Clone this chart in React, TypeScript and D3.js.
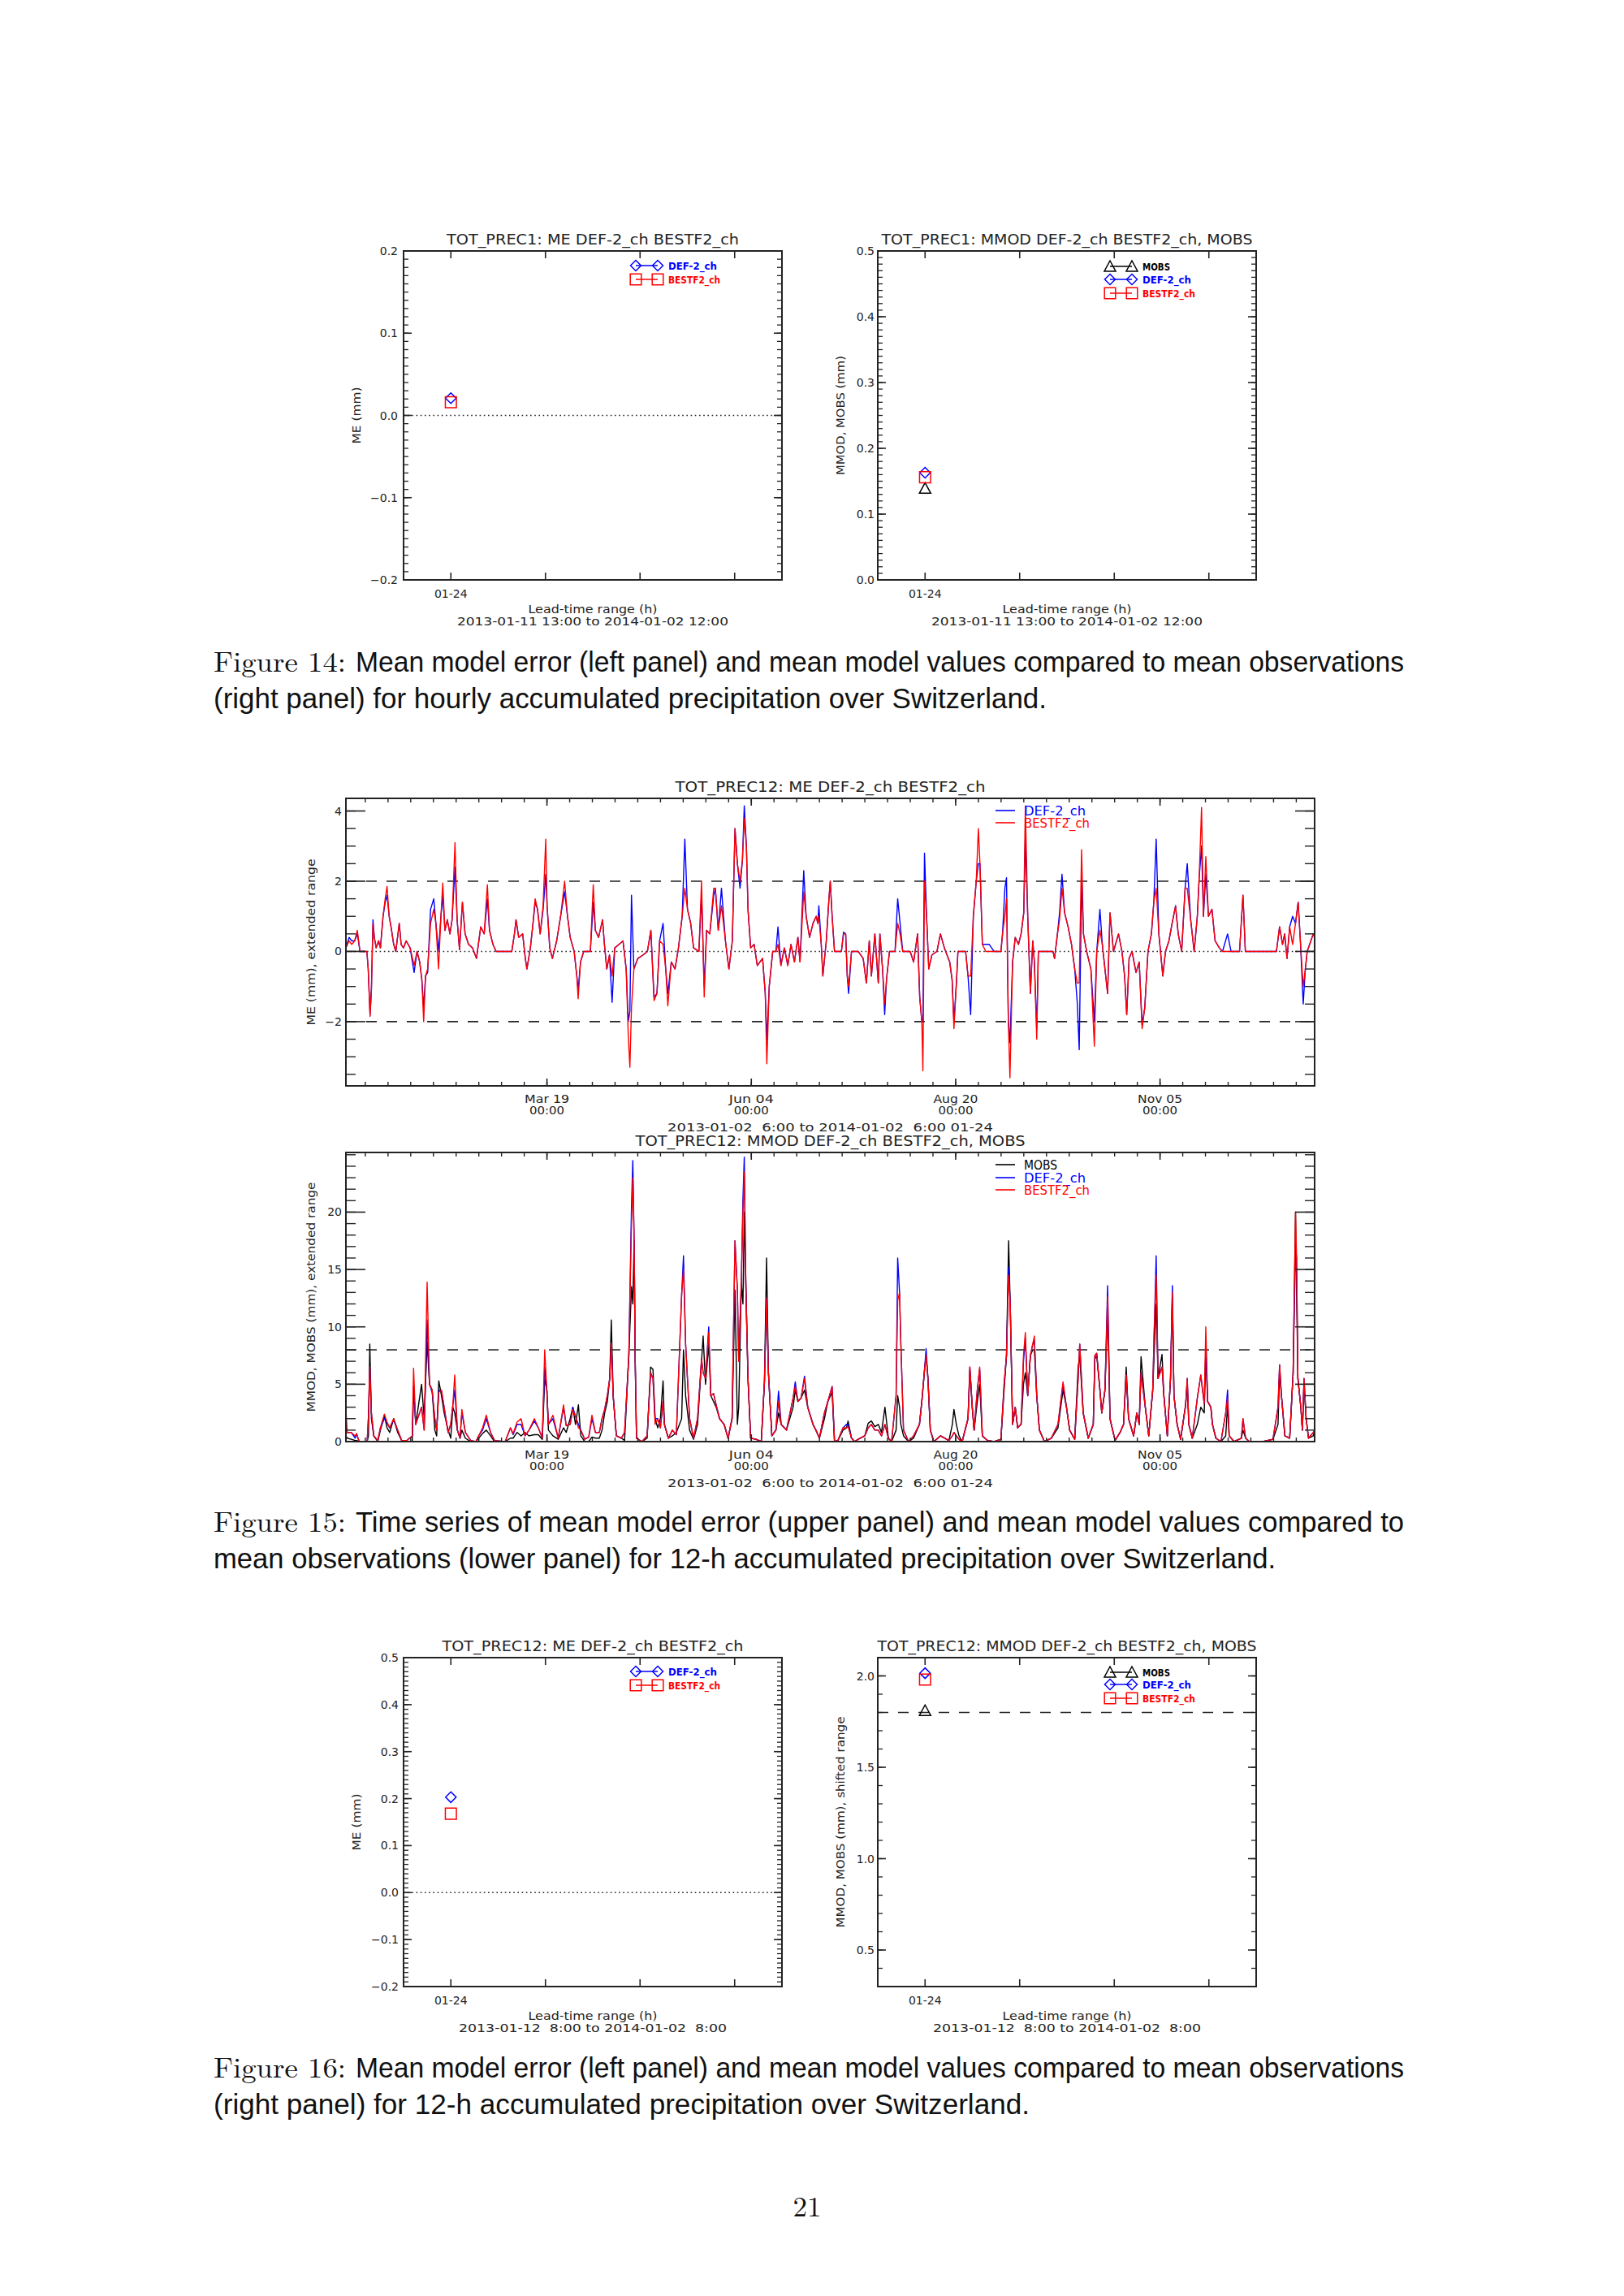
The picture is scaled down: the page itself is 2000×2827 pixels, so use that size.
import React from "react";
import * as d3 from "d3";

// ---------------- DATA ----------------
// Fig 14 / 16 lead-time panels (single lead-time range "01-24")
const leadCategories = ["01-24"];
const fig14MeDef = [0.021];
const fig14MeBest = [0.016];
const fig14MmodDef = [0.163];
const fig14MmodBest = [0.156];
const fig14Mobs = [0.139];
const fig16MeDef = [0.203];
const fig16MeBest = [0.168];
const fig16MmodDef = [2.015];
const fig16MmodBest = [1.98];
const fig16Mobs = [1.81];

const fig14LeftTicks = [-0.2, -0.1, 0.0, 0.1, 0.2];
const fig14RightTicks = [0.0, 0.1, 0.2, 0.3, 0.4, 0.5];
const fig16LeftTicks = [-0.2, -0.1, 0.0, 0.1, 0.2, 0.3, 0.4, 0.5];
const fig16RightTicks = [0.5, 1.0, 1.5, 2.0];

// Fig 15 time series: [day since 2013-01-02 06:00, value]
const meBest: [number, number][] = [[0,0.1],[1.2,0.3],[2.2,0.2],[3.3,0.3],[4.3,0.6],[5.3,0],[7.9,0],[8.4,-0.5],[9.1,-1.85],[9.6,-1.1],[10.2,0.8],[10.7,0.4],[11.4,0.1],[12.3,0.3],[13,0.1],[14,1.0],[14.8,1.5],[15.5,1.85],[16.3,1.0],[17,0.7],[18,0.2],[18.8,0],[20.1,0.8],[20.8,0.2],[21.7,0.1],[22.7,0.3],[24.2,0.1],[25.7,-0.4],[26.8,0],[27.8,-0.3],[28.6,-0.8],[29.3,-2.0],[30,-0.7],[30.8,-0.5],[31.9,0.8],[33.1,1.2],[33.9,0.8],[34.9,-0.5],[35.8,1.0],[36.5,1.95],[37.3,0.6],[38.2,0.9],[39.2,0.5],[40,0.9],[41.1,3.1],[41.9,0.9],[42.8,0.05],[43.9,1.4],[44.9,0.5],[46.2,0.2],[47.7,0.1],[49.2,-0.2],[50.8,0.7],[52.1,0.5],[53.3,1.9],[54.1,0.6],[55.4,0.2],[56.6,0],[62.5,0],[63.5,0.5],[64.1,0.9],[65.1,0.4],[66.6,0.5],[67.6,-0.2],[68.2,-0.5],[69.5,0.1],[70.5,0.8],[71.3,1.5],[72.2,1.2],[73.2,0.5],[74.3,1.3],[75.3,3.2],[75.8,1.3],[76.8,0.1],[77.8,-0.2],[79.4,0.3],[80.9,1.0],[82.4,2.0],[83.5,1.0],[84.5,0.4],[86,0],[87,-0.7],[87.5,-1.35],[88.4,-0.3],[89.6,0],[92.1,0],[93.2,1.9],[94,0.6],[95.2,0.4],[96.7,0.9],[97.4,0.2],[98.3,-0.5],[99.3,-0.1],[100.3,-0.7],[101.3,0.1],[102.9,0.2],[104.4,0.3],[105.6,-0.5],[106.4,-2.4],[107,-3.3],[107.6,-1.6],[108.5,-0.5],[110,-0.2],[112,-0.1],[113.6,0],[114.9,0.6],[116.1,-1.4],[117.2,-1.2],[118.2,0.3],[119.5,0.2],[120.5,-0.5],[121.3,-1.55],[122.6,-0.3],[124,-0.5],[125.3,0.1],[126.7,1.0],[127.7,1.8],[128.7,1.2],[129.9,0.8],[131,0.1],[133,0],[134,2.0],[135,-1.3],[135.9,0.6],[137.1,0.5],[138.6,1.8],[139.2,1.8],[140.3,0.6],[141.5,1.3],[143,0.3],[144.3,-0.5],[145.6,0.3],[146.6,3.5],[147.5,2.5],[148.5,2.0],[149.4,2.6],[150.1,3.8],[150.9,3.0],[151.5,1.2],[152.5,0.1],[153.8,0.2],[155,-0.4],[157,-0.2],[158,-1.2],[158.6,-3.2],[159.5,-1.0],[160.8,0],[162,0],[162.8,0.2],[163.9,-0.4],[165.2,0.1],[166.5,-0.4],[167.7,0.2],[169,-0.3],[170.3,0.4],[171.1,-0.3],[172.5,1.7],[173.4,1.0],[174.7,0.4],[176,0.8],[177.2,1.0],[177.8,0.8],[178.2,1.0],[179.1,0.2],[179.7,-0.7],[181,0.3],[182,1.5],[182.5,2.0],[183.2,1.0],[184.1,0],[186.7,0],[187.5,0.5],[188.3,0.5],[188.9,-0.7],[189.4,-1.0],[190.5,0],[193,0],[194.9,-0.2],[196.1,-0.9],[197.2,0.3],[198,-0.7],[199.3,0.5],[200.6,-0.9],[201.2,0.5],[202.2,-0.5],[203,-1.5],[203.7,-0.8],[204.8,0],[206.9,0],[207.9,0.8],[208.8,0.5],[209.8,0],[212.6,0],[213.9,-0.3],[215.4,0.5],[216.2,-1.3],[217,-2.0],[217.4,-3.4],[218,2.0],[218.9,0.8],[219.6,-0.5],[220.8,-0.1],[222.7,0],[224,0.5],[225.5,0.1],[227.5,-0.3],[228.4,-0.8],[229.1,-2.2],[230.1,-0.8],[230.6,0],[233.5,0],[234.4,-0.7],[235.4,-0.7],[236.4,1.0],[237.5,2.0],[238.3,3.5],[238.9,2.5],[239.8,0.2],[241.1,0],[246.8,0],[247.4,0.5],[248.3,1.0],[248.9,1.5],[249.6,-2.0],[250.2,-3.6],[251.2,-0.3],[252.2,0.4],[253.4,0.2],[254.4,0.5],[255.4,1.1],[256,4.15],[256.9,1.0],[257.9,-1.2],[258.8,0.3],[259.4,-0.3],[260.3,-2.5],[260.9,0],[266.4,0],[267,-0.2],[268.1,0.5],[268.9,0.9],[269.8,1.8],[270.8,1.1],[272.1,0.7],[273.4,0.2],[274.6,-0.5],[275.6,-0.9],[276.3,-0.9],[277.2,2.9],[277.9,0.5],[279.1,0],[280.7,-0.5],[282,-2.7],[282.9,0],[284.1,0.6],[285,0.2],[286,-0.5],[287,-1.2],[287.9,1.1],[289.2,0],[291.1,0.5],[292.4,0],[293.4,-0.7],[294.2,-1.8],[295.1,-0.2],[296.2,0],[297.7,-0.6],[298.9,-0.3],[300,-2.2],[301,-1.6],[302.2,0],[303.5,0.5],[304.4,1.4],[305.3,1.8],[306.3,0.5],[307.8,-0.7],[308.8,0],[310.1,0.3],[311.3,0.8],[312.6,1.3],[313.6,0.5],[314.9,0],[316.2,1.8],[317,1.8],[318.3,0.9],[319.6,0],[320.8,1.0],[321.5,2.1],[322.4,4.1],[323.1,1.0],[324,2.7],[325,1.0],[326.3,1.2],[327.5,0.3],[329.1,0.1],[330.3,0],[336.7,0],[338,1.6],[338.9,0],[350.6,0],[351.8,0.7],[352.9,0.2],[353.7,0.5],[354.6,-0.2],[355.6,0.7],[356.7,0.2],[357.8,0.8],[358.8,1.4],[359.7,0.2],[360.7,-1.0],[361.5,-0.5],[362.2,0],[364.5,0.5],[365,0.4]];

const meDef: [number, number][] = [[0,0.1],[1.2,0.4],[2.2,0.3],[3.3,0.3],[4.3,0.5],[5.3,0],[7.9,0],[8.4,-0.5],[9.1,-1.8],[9.6,-1.1],[10.2,0.9],[10.7,0.4],[11.4,0.1],[12.3,0.3],[13,0.1],[14,1.0],[14.8,1.4],[15.5,1.6],[16.3,1.0],[17,0.7],[18,0.2],[18.8,0],[20.1,0.8],[20.8,0.2],[21.7,0.1],[22.7,0.3],[24.2,0.1],[25.7,-0.6],[26.8,0],[27.8,-0.3],[28.6,-0.8],[29.3,-1.6],[30,-0.7],[30.8,-0.6],[31.9,1.2],[33.1,1.5],[33.9,0.8],[34.9,0],[35.8,1.0],[36.5,1.6],[37.3,0.6],[38.2,0.9],[39.2,0.5],[40,0.9],[41.1,2.4],[41.9,0.9],[42.8,0.05],[43.9,1.4],[44.9,0.5],[46.2,0.2],[47.7,0.1],[49.2,-0.2],[50.8,0.7],[52.1,0.5],[53.3,1.5],[54.1,0.6],[55.4,0.2],[56.6,0],[62.5,0],[63.5,0.5],[64.1,0.9],[65.1,0.4],[66.6,0.5],[67.6,-0.2],[68.2,-0.5],[69.5,0.1],[70.5,0.8],[71.3,1.4],[72.2,1.2],[73.2,0.5],[74.3,1.2],[75.3,2.2],[75.8,1.3],[76.8,0.1],[77.8,-0.2],[79.4,0.3],[80.9,1.0],[82.4,1.7],[83.5,1.0],[84.5,0.4],[86,0],[87,-0.7],[87.5,-1.1],[88.4,-0.3],[89.6,0],[92.1,0],[93.2,1.4],[94,0.6],[95.2,0.4],[96.7,0.9],[97.4,0.2],[98.3,-0.5],[99.3,-0.1],[100.3,-1.45],[101.3,0.1],[102.9,0.2],[104.4,0.3],[105.6,-0.5],[106.4,-2.0],[107,-1.7],[107.6,1.6],[108.5,-0.5],[110,-0.2],[112,-0.1],[113.6,0],[114.9,0.6],[116.1,-1.3],[117.2,-1.2],[118.2,0.3],[119.5,0.8],[120.5,-0.5],[121.3,-1.2],[122.6,-0.3],[124,-0.5],[125.3,0.1],[126.7,1.0],[127.7,3.2],[128.7,1.2],[129.9,0.8],[131,0.1],[133,0],[134,1.6],[135,-1.0],[135.9,0.6],[137.1,0.5],[138.6,1.6],[139.2,1.8],[140.3,0.6],[141.5,1.8],[143,0.3],[144.3,-0.5],[145.6,0.3],[146.6,3.5],[147.5,2.5],[148.5,1.8],[149.4,2.6],[150.1,4.15],[150.9,3.0],[151.5,1.2],[152.5,0.1],[153.8,0.2],[155,-0.4],[157,-0.2],[158,-1.2],[158.6,-2.5],[159.5,-1.0],[160.8,0],[162,0],[162.8,0.7],[163.9,-0.4],[165.2,0.1],[166.5,-0.4],[167.7,0.2],[169,-0.3],[170.3,0.4],[171.1,-0.3],[172.5,2.3],[173.4,1.0],[174.7,0.4],[176,0.8],[177.2,1.0],[177.8,0.8],[178.2,1.3],[179.1,0.2],[179.7,-0.7],[181,0.3],[182,1.5],[182.5,2.0],[183.2,1.0],[184.1,0],[186.7,0],[187.5,0.55],[188.3,0.5],[188.9,-0.7],[189.4,-1.2],[190.5,0],[193,0],[194.9,-0.2],[196.1,-0.9],[197.2,0.3],[198,-0.7],[199.3,0.5],[200.6,-0.9],[201.2,0.5],[202.2,-0.5],[203,-1.8],[203.7,-0.8],[204.8,0],[206.9,0],[207.9,1.5],[208.8,0.8],[209.8,0],[212.6,0],[213.9,-0.3],[215.4,0.5],[216.2,-1.3],[217,-2.0],[217.4,-2.0],[218,2.8],[218.9,0.8],[219.6,-0.5],[220.8,-0.1],[222.7,0],[224,0.5],[225.5,0.1],[227.5,-0.3],[228.4,-0.8],[229.1,-2.0],[230.1,-0.8],[230.6,0],[233.5,0],[234.4,-0.7],[235.4,-1.8],[236.4,1.0],[237.5,2.0],[238.3,2.5],[238.9,2.5],[239.8,0.2],[241.1,0.2],[242.4,0.2],[244.2,0],[246.8,0],[247.4,0.5],[248.3,1.8],[248.9,2.1],[249.6,-2.0],[250.2,-2.6],[251.2,-0.3],[252.2,0.4],[253.4,0.2],[254.4,0.5],[255.4,1.1],[256,3.2],[256.9,1.0],[257.9,-1.2],[258.8,0.3],[259.4,-0.3],[260.3,-2.2],[260.9,0],[266.4,0],[267,-0.2],[268.1,0.5],[268.9,1.1],[269.8,2.2],[270.8,1.1],[272.1,0.7],[273.4,0.2],[274.6,-0.5],[275.6,-1.5],[276.3,-2.8],[277.2,2.0],[277.9,0.5],[279.1,0],[280.7,-0.5],[282,-2.0],[282.9,0],[284.1,1.2],[285,0.2],[286,-0.5],[287,-1.2],[287.9,1.1],[289.2,0],[291.1,0.5],[292.4,0],[293.4,-0.7],[294.2,-1.8],[295.1,-0.2],[296.2,0],[297.7,-0.6],[298.9,-0.3],[300,-2.1],[301,-1.6],[302.2,0],[303.5,0.5],[304.4,1.4],[305.3,3.2],[306.3,0.5],[307.8,-0.7],[308.8,0],[310.1,0.3],[311.3,0.8],[312.6,1.3],[313.6,0.5],[314.9,0],[316.2,1.8],[317,2.5],[318.3,0.9],[319.6,0],[320.8,1.0],[321.5,2.1],[322.4,3.0],[323.1,1.0],[324,2.2],[325,1.0],[326.3,1.2],[327.5,0.3],[329.1,0.1],[330.3,0],[332.2,0.5],[333.5,0],[336.7,0],[338,1.6],[338.9,0],[350.6,0],[351.8,0.7],[352.9,0.2],[353.7,0.5],[354.6,-0.2],[355.6,0.7],[356.7,1.0],[357.8,0.8],[358.8,1.4],[359.7,0.2],[360.7,-1.5],[361.5,-0.5],[362.2,0],[364.5,0.5],[365,0.4]];

const mmObs: [number, number][] = [[0,0.5],[0.5,0.3],[2,0.2],[3.5,0.1],[4,0.1],[5,0],[8,0],[8.5,0.5],[9,8.5],[9.6,2.0],[10.5,0.5],[12,0],[13,1.0],[14.5,2.3],[15.5,1.2],[16.5,0.8],[18,2.0],[19.5,0.8],[21,0.1],[23,0],[25,0],[25.5,4.8],[26.3,1.5],[28.5,5.0],[29.5,2.0],[30.6,8.7],[31.5,5.0],[32.5,4.5],[33.5,1.0],[34.2,0.5],[35,5.3],[36,4.0],[37,2.5],[38.5,1.0],[39.5,0.3],[40.3,3.0],[41,2.5],[42,1.0],[43,0.3],[43.7,1.0],[45,0.3],[47,0],[49,0],[50,0.3],[51.5,0.7],[52.9,1.0],[54.5,0.5],[56,0],[60,0],[62,0.3],[63,0.3],[64.5,0.8],[66,0.5],[67.5,0.8],[69,0.5],[71,0.6],[72.5,0.6],[74,0.2],[74.9,5.5],[75.7,4.5],[76.3,1.0],[78,0.5],[80,0.2],[82,1.2],[83,0.8],[84.5,2.0],[85.5,3.0],[86.5,1.5],[87.6,3.2],[88.5,0.5],[90,0],[91.5,0],[92.7,0.4],[94,0.3],[95.5,0.3],[96.5,1.0],[97.5,2.5],[98.5,3.5],[99.4,5.5],[100,10.6],[100.7,4.0],[101.9,0.5],[103.8,0.3],[105,0.1],[106.6,7.5],[107.6,13.5],[108.1,12.0],[108.6,17.5],[109,7.0],[109.5,0.3],[111.5,0],[113.5,0.3],[114.8,6.5],[115.7,6.3],[116.5,2.0],[117.5,1.2],[118.5,2.0],[119.5,5.3],[120,1.5],[121.5,0.3],[123,0.5],[124.5,0.8],[126.5,2.0],[127.2,8.0],[128,4.0],[129.5,1.0],[131,0.2],[132.5,1.5],[134,7.0],[134.6,9.2],[135.5,5.0],[136.7,8.5],[137.5,4.0],[138.5,3.5],[139.5,3.0],[140.8,2.0],[142.5,1.5],[144,0.3],[145.5,2.0],[146.6,13.2],[147.5,1.5],[148,3.0],[149,13.8],[149.6,12.0],[150.1,20.0],[150.7,13.5],[151.5,5.5],[152.5,0.3],[154.5,0.2],[156.5,0],[157.7,5.2],[158.5,16.0],[159.2,6.0],[160.5,0.5],[162,1.0],[163,2.5],[164,1.5],[166,1.0],[168.5,3.0],[169.3,4.5],[170.3,3.5],[171.5,3.8],[172.8,4.5],[174,3.0],[176,1.5],[177.1,1.0],[178.4,0.3],[180.3,2.0],[181.6,3.5],[183.2,4.3],[184.1,0],[185.4,0.1],[187.3,1.0],[188.6,1.2],[189.2,1.8],[190.5,0.3],[191.7,0],[193,0.2],[195.5,0.5],[196.8,1.6],[198,1.8],[199.3,1.3],[200.6,1.5],[201.8,0.8],[203.1,3.0],[204.4,0.3],[205.6,0],[207.3,1.0],[207.9,4.0],[208.6,3.0],[209.1,1.5],[210.1,0.5],[212,0],[213.9,0.3],[216.1,1.5],[217,3.5],[218,6.2],[218.6,7.5],[219.3,5.5],[220.2,1.0],[221.5,0],[224,0.5],[227.2,0.1],[228.5,1.5],[229.1,2.8],[230,1.5],[231,0.5],[232.2,0],[234.4,2.0],[235.1,6.2],[236,3.0],[236.7,1.0],[237.9,3.5],[238.8,5.0],[239.8,0.5],[241.7,0.1],[244.3,0],[246.8,0.2],[248,4.5],[248.9,7.5],[249.7,17.5],[250.3,12.0],[251.2,1.5],[252.2,3.0],[253.1,1.2],[254.4,1.5],[255.3,5.0],[256,6.0],[256.9,4.0],[257.9,7.5],[258.8,8.0],[259.4,8.0],[260.3,4.0],[261.3,1.0],[263.2,0],[265.8,0.3],[268.3,1.2],[270.2,4.5],[271.5,3.0],[272.7,1.0],[274.6,0.2],[275.9,6.5],[276.5,7.5],[277.8,2.5],[279.7,0.3],[281.6,1.5],[282.2,7.2],[282.9,7.5],[284.1,4.5],[284.8,2.5],[286,4.5],[287,11.5],[287.9,2.0],[289.8,0.1],[291.7,0.8],[293,1.5],[294,6.5],[294.9,2.0],[296.8,0.5],[298,2.5],[298.9,1.5],[299.6,7.4],[301.2,3.0],[302.5,0.5],[304,4.5],[304.6,8.0],[305.3,12.0],[306,5.5],[307.5,7.6],[308.2,4.0],[309.5,0.5],[310.7,5.5],[311.4,12.5],[312,4.0],[313.2,1.5],[314.5,0.2],[316.4,3.2],[317,5.0],[317.6,1.5],[318.9,0.3],[320.8,1.5],[322.1,3.0],[323.4,2.5],[324,8.0],[324.7,3.5],[325.9,3.0],[326.5,1.5],[327.8,0.3],[329.7,0],[331.5,0.5],[332.2,3.2],[332.8,0.5],[334.7,0],[337.4,0.3],[338,1.0],[339,0.3],[340.4,0],[345.5,0],[349.3,0.2],[351.2,1.5],[351.8,6.0],[352.5,4.0],[353.8,0.5],[355.6,0.3],[356.9,6.0],[357.8,20.0],[358.2,13.0],[358.7,5.5],[359.8,3.0],[360.4,1.0],[361,5.0],[361.8,2.0],[362.7,0.3],[364.5,0.5],[365,1.0]];

const mmDef: [number, number][] = [[0,0.9],[0.5,0.8],[2,0.8],[3.5,0.3],[4,0.7],[5,0],[8,0],[8.5,2.2],[9,6.5],[9.6,2.5],[10.5,0.5],[12,0.1],[13,1.2],[14.5,2.0],[15.5,1.6],[16.5,1.2],[18,1.9],[19.5,1.0],[21,0.1],[23,0.1],[25,0.5],[25.5,4.8],[26.3,1.5],[28.5,3.0],[29.5,1.0],[30.6,10.6],[31.5,5.0],[32.5,4.3],[33.5,2.0],[34.2,1.0],[35,4.5],[36,4.4],[37,3.0],[38.5,0.8],[39.5,1.5],[40.3,3.2],[41,4.5],[42,1.0],[43,0.3],[43.7,2.5],[45,0.8],[47,0.1],[49,0],[50,0.5],[51.5,1.0],[52.9,2.0],[54.5,0.8],[56,0.1],[60,0],[62,1.2],[63,0.6],[64.5,1.5],[66,1.5],[67.5,0.5],[69,1.0],[71,1.8],[72.5,1.2],[74,0.3],[74.9,6.5],[75.7,4.5],[76.3,1.5],[78,2.0],[80,0.3],[82,3.0],[83,1.4],[84.5,1.5],[85.5,3.0],[86.5,2.2],[87.6,1.5],[88.5,1.0],[90,0.2],[91.5,0.4],[92.7,2.0],[94,0.8],[95.5,0.8],[96.5,2.0],[97.5,2.8],[98.5,4.0],[99.4,5.5],[100,8.6],[100.7,4.0],[101.9,0.5],[103.8,0.3],[105,0.8],[106.6,7.5],[107.6,20.5],[108.1,24.5],[108.6,17.5],[109,7.0],[109.5,0.3],[111.5,0],[113.5,0.5],[114.8,6.0],[115.7,5.5],[116.5,2.0],[117.5,2.0],[118.5,1.2],[119.5,3.5],[120,1.5],[121.5,0.3],[123,1.0],[124.5,0.6],[126.5,12.8],[127.2,16.2],[128,8.5],[129.5,2.0],[131,0.3],[132.5,2.0],[134,7.2],[134.6,6.0],[135.5,5.5],[136.7,10.0],[137.5,4.0],[138.5,4.2],[139.5,3.2],[140.8,2.0],[142.5,1.5],[144,0.3],[145.5,2.0],[146.6,17.5],[147.5,13.2],[148,7.0],[149,14.0],[149.6,21.2],[150.1,24.8],[150.7,13.5],[151.5,5.5],[152.5,0.3],[154.5,0.2],[156.5,0],[157.7,5.2],[158.5,12.5],[159.2,6.0],[160.5,0.5],[162,1.0],[163,4.4],[164,1.5],[166,1.0],[168.5,3.8],[169.3,5.2],[170.3,3.5],[171.5,3.8],[172.8,5.7],[174,3.0],[176,1.5],[177.1,1.0],[178.4,0.3],[180.3,2.5],[181.6,3.5],[183.2,4.8],[184.1,0],[185.4,0.1],[187.3,1.2],[188.6,1.5],[189.2,1.5],[190.5,0.3],[191.7,0],[193,0.2],[195.5,0.5],[196.8,1.2],[198,1.5],[199.3,1.0],[200.6,1.0],[201.8,0.5],[203.1,1.5],[204.4,0.3],[205.6,0],[207.3,4.0],[207.9,16.0],[208.6,13.0],[209.1,8.5],[210.1,1.0],[212,0],[213.9,0.5],[216.1,1.5],[217,3.5],[218,6.2],[218.6,8.1],[219.3,5.5],[220.2,1.0],[221.5,0],[224,0.5],[227.2,0.1],[228.5,0.5],[229.1,0.8],[230,0.5],[231,0.2],[232.2,0],[234.4,2.0],[235.1,6.5],[236,3.0],[236.7,1.0],[237.9,4.5],[238.8,6.3],[239.8,0.5],[241.7,0.1],[244.3,0],[246.8,0.2],[248,5.0],[248.9,7.5],[249.7,15.2],[250.3,12.0],[251.2,1.5],[252.2,3.0],[253.1,1.2],[254.4,1.5],[255.3,7.0],[256,9.0],[256.9,4.0],[257.9,7.5],[258.8,8.5],[259.4,8.8],[260.3,4.0],[261.3,1.0],[263.2,0],[265.8,0.3],[268.3,1.5],[270.2,5.0],[271.5,3.0],[272.7,1.0],[274.6,0.2],[275.9,5.5],[276.5,8.5],[277.8,2.5],[279.7,0.3],[281.6,1.5],[282.2,7.5],[282.9,7.7],[284.1,4.5],[284.8,2.5],[286,4.5],[287,13.6],[287.9,2.0],[289.8,0.1],[291.7,0.8],[293,1.5],[294,5.8],[294.9,2.0],[296.8,0.5],[298,2.5],[298.9,1.5],[299.6,6.0],[301.2,3.0],[302.5,0.5],[304,4.5],[304.6,10.0],[305.3,16.2],[306,5.5],[307.5,6.5],[308.2,4.0],[309.5,0.5],[310.7,5.5],[311.4,13.6],[312,4.0],[313.2,1.5],[314.5,0.2],[316.4,3.2],[317,5.5],[317.6,1.5],[318.9,0.3],[320.8,3.8],[322.1,5.8],[323.4,3.3],[324,8.0],[324.7,3.5],[325.9,3.0],[326.5,1.5],[327.8,0.3],[329.7,0],[331.5,2.5],[332.2,4.5],[332.8,0.5],[334.7,0],[337.4,0.3],[338,2.0],[339,0.3],[340.4,0],[345.5,0],[349.3,0.2],[351.2,3.0],[351.8,6.7],[352.5,4.0],[353.8,0.5],[355.6,0.3],[356.9,6.0],[357.8,17.0],[358.2,16.0],[358.7,5.5],[359.8,3.0],[360.4,1.0],[361,5.5],[361.8,2.0],[362.7,0.3],[364.5,0.8],[365,1.0]];

const mmBest: [number, number][] = [[0,2.7],[0.5,0.8],[2,0.8],[3.5,0.5],[4,0.7],[5,0],[8,0],[8.5,2.2],[9,6.5],[9.6,2.5],[10.5,0.5],[12,0.1],[13,1.2],[14.5,2.4],[15.5,1.7],[16.5,1.2],[18,2.0],[19.5,1.0],[21,0.1],[23,0.1],[25,0.5],[25.5,6.4],[26.3,1.5],[28.5,3.0],[29.5,1.0],[30.6,13.9],[31.5,5.0],[32.5,4.5],[33.5,2.0],[34.2,1.0],[35,4.3],[36,4.5],[37,3.0],[38.5,0.8],[39.5,1.5],[40.3,3.2],[41,5.8],[42,1.0],[43,0.3],[43.7,2.8],[45,0.8],[47,0.1],[49,0],[50,0.5],[51.5,1.2],[52.9,2.3],[54.5,0.8],[56,0.1],[60,0],[62,1.2],[63,0.7],[64.5,1.7],[66,2.0],[67.5,0.5],[69,1.0],[71,2.0],[72.5,1.2],[74,0.3],[74.9,8.0],[75.7,4.5],[76.3,1.5],[78,2.3],[80,0.3],[82,3.2],[83,1.4],[84.5,1.5],[85.5,2.8],[86.5,2.2],[87.6,1.2],[88.5,1.0],[90,0.2],[91.5,0.4],[92.7,2.3],[94,0.8],[95.5,0.8],[96.5,2.0],[97.5,2.8],[98.5,4.0],[99.4,5.5],[100,8.6],[100.7,4.0],[101.9,0.5],[103.8,0.3],[105,0.8],[106.6,7.5],[107.6,19.0],[108.1,23.0],[108.6,17.5],[109,7.0],[109.5,0.3],[111.5,0],[113.5,0.5],[114.8,6.0],[115.7,5.5],[116.5,1.5],[117.5,2.0],[118.5,1.2],[119.5,3.5],[120,1.5],[121.5,0.3],[123,1.0],[124.5,0.6],[126.5,12.8],[127.2,15.0],[128,8.5],[129.5,2.0],[131,0.3],[132.5,2.0],[134,7.2],[134.6,6.0],[135.5,5.5],[136.7,9.5],[137.5,4.0],[138.5,4.2],[139.5,3.2],[140.8,2.0],[142.5,1.5],[144,0.3],[145.5,2.0],[146.6,17.5],[147.5,13.2],[148,7.0],[149,14.0],[149.6,20.0],[150.1,23.5],[150.7,13.5],[151.5,5.5],[152.5,0.3],[154.5,0.2],[156.5,0],[157.7,5.2],[158.5,12.5],[159.2,6.0],[160.5,0.5],[162,1.0],[163,3.5],[164,1.5],[166,1.0],[168.5,3.8],[169.3,4.8],[170.3,3.5],[171.5,3.8],[172.8,5.5],[174,3.0],[176,1.5],[177.1,1.0],[178.4,0.3],[180.3,2.5],[181.6,3.5],[183.2,4.8],[184.1,0],[185.4,0.1],[187.3,1.2],[188.6,1.2],[189.2,1.3],[190.5,0.3],[191.7,0],[193,0.2],[195.5,0.5],[196.8,1.2],[198,1.5],[199.3,1.0],[200.6,1.0],[201.8,0.5],[203.1,1.5],[204.4,0.3],[205.6,0],[207.3,4.0],[207.9,12.3],[208.6,13.0],[209.1,8.5],[210.1,1.0],[212,0],[213.9,0.5],[216.1,1.5],[217,3.5],[218,6.2],[218.6,7.5],[219.3,5.5],[220.2,1.0],[221.5,0],[224,0.5],[227.2,0.1],[228.5,0.5],[229.1,0.8],[230,0.5],[231,0.2],[232.2,0],[234.4,2.0],[235.1,6.5],[236,3.0],[236.7,1.0],[237.9,4.5],[238.8,6.5],[239.8,0.5],[241.7,0.1],[244.3,0],[246.8,0.2],[248,5.0],[248.9,7.5],[249.7,14.5],[250.3,12.0],[251.2,1.5],[252.2,3.0],[253.1,1.2],[254.4,1.5],[255.3,7.5],[256,9.5],[256.9,4.0],[257.9,7.5],[258.8,8.5],[259.4,9.2],[260.3,4.0],[261.3,1.0],[263.2,0],[265.8,0.3],[268.3,1.5],[270.2,5.2],[271.5,3.0],[272.7,1.0],[274.6,0.2],[275.9,5.5],[276.5,8.5],[277.8,2.5],[279.7,0.3],[281.6,1.5],[282.2,7.5],[282.9,7.7],[284.1,4.5],[284.8,2.5],[286,4.5],[287,12.6],[287.9,2.0],[289.8,0.1],[291.7,0.8],[293,1.5],[294,5.8],[294.9,2.0],[296.8,0.5],[298,2.5],[298.9,1.5],[299.6,6.0],[301.2,3.0],[302.5,0.5],[304,4.5],[304.6,10.0],[305.3,14.5],[306,5.5],[307.5,6.5],[308.2,4.0],[309.5,0.5],[310.7,5.5],[311.4,13.0],[312,4.0],[313.2,1.5],[314.5,0.2],[316.4,3.2],[317,5.5],[317.6,1.5],[318.9,0.3],[320.8,3.8],[322.1,5.8],[323.4,3.3],[324,10.0],[324.7,3.5],[325.9,3.0],[326.5,1.5],[327.8,0.3],[329.7,0],[331.5,2.5],[332.2,3.8],[332.8,0.5],[334.7,0],[337.4,0.3],[338,2.0],[339,0.3],[340.4,0],[345.5,0],[349.3,0.2],[351.2,3.0],[351.8,6.7],[352.5,4.0],[353.8,0.5],[355.6,0.3],[356.9,6.0],[357.8,20.0],[358.2,16.0],[358.7,5.5],[359.8,3.0],[360.4,1.0],[361,5.5],[361.8,2.0],[362.7,0.3],[364.5,0.8],[365,1.0]];

const meTicks = [-2, 0, 2, 4];
const mmTicks = [0, 5, 10, 15, 20];
const timeMajorDates = [Date.UTC(2013, 2, 19), Date.UTC(2013, 5, 4), Date.UTC(2013, 7, 20), Date.UTC(2013, 10, 5)];

// ---------------- STYLE ----------------
const INK = "#232323";
const BLUE = "#0000ff";
const RED = "#ff0000";
const SANS = '"DejaVu Sans", "Liberation Sans", Arial, sans-serif';
const SERIF = '"Latin Modern Roman", "Liberation Serif", "DejaVu Serif", serif';
const CAPSANS = '"Liberation Sans Narrow", "Liberation Sans", "DejaVu Sans", sans-serif';
const DAY = 864e5;
const T0 = Date.UTC(2013, 0, 2, 6);
const T1 = Date.UTC(2014, 0, 2, 6);

function Txt(p: any) {
  const { x, y, w, size, anchor = "middle", fill = INK, weight, family = SANS, rotate, children } = p;
  const common: any = {
    fontSize: size,
    fontFamily: family,
    fill,
    fontWeight: weight,
    textAnchor: anchor,
    style: { whiteSpace: "pre" },
  };
  if (w) {
    common.textLength = w;
    common.lengthAdjust = "spacingAndGlyphs";
  }
  if (rotate) {
    return (
      <text transform={`translate(${x},${y}) rotate(-90)`} x={0} y={0} dominantBaseline="central" {...common}>
        {children}
      </text>
    );
  }
  return (
    <text x={x} y={y} {...common}>
      {children}
    </text>
  );
}

function markerPath(kind: string, cx: number, cy: number, r: number) {
  if (kind === "diamond") return `M${cx},${cy - r}L${cx + r},${cy}L${cx},${cy + r}L${cx - r},${cy}Z`;
  if (kind === "square") return `M${cx - r},${cy - r}h${2 * r}v${2 * r}h${-2 * r}Z`;
  return `M${cx},${cy - r}L${cx + r},${cy + r * 0.85}L${cx - r},${cy + r * 0.85}Z`;
}
const markerR: any = { diamond: 6.5, square: 6.8, triangle: 7 };

function minorValues(domain: number[], step: number) {
  const a = Math.ceil(domain[0] / step - 1e-6);
  const b = Math.floor(domain[1] / step + 1e-6);
  return d3.range(a, b + 1).map((i) => i * step);
}

// ---------------- LEAD-TIME PANEL ----------------
function LeadPanel(p: any) {
  const { left, top, yDomain, yMajor, yMinorStep, title, titleW, yLabel, yLabelW, yLabelDx, tickRight, points, legend, legendDy, dateText, dateW, refLine } = p;
  const W = 466, H = 405;
  const x = d3.scaleLinear().domain([0, 4]).range([left, left + W]);
  const y = d3.scaleLinear().domain(yDomain).range([top + H, top]);
  const fmt = d3.format(".1f");
  const xMajor = [0.5, 1.5, 2.5, 3.5];
  const minors = minorValues(yDomain, yMinorStep);
  const catX = (i: number) => x(i + 0.5);
  return (
    <g>
      <Txt x={left + W / 2} y={top - 8} w={titleW} size={18}>{title}</Txt>
      {refLine && (
        <line x1={left} x2={left + W} y1={y(refLine.value)} y2={y(refLine.value)} stroke={INK} strokeWidth={refLine.dash === "dot" ? 1.6 : 1.5} strokeDasharray={refLine.dash === "dot" ? "1.6 3.6" : "13 12"} />
      )}
      {minors.map((v, i) => (
        <g key={"m" + i}>
          <line x1={left} x2={left + 6} y1={y(v)} y2={y(v)} stroke={INK} strokeWidth={1.3} />
          <line x1={left + W} x2={left + W - 6} y1={y(v)} y2={y(v)} stroke={INK} strokeWidth={1.3} />
        </g>
      ))}
      {yMajor.map((v: number, i: number) => (
        <g key={"M" + i}>
          <line x1={left} x2={left + 10} y1={y(v)} y2={y(v)} stroke={INK} strokeWidth={1.6} />
          <line x1={left + W} x2={left + W - 10} y1={y(v)} y2={y(v)} stroke={INK} strokeWidth={1.6} />
          <Txt x={left - tickRight} y={y(v) + 5} size={14} anchor="end">{fmt(v)}</Txt>
        </g>
      ))}
      {xMajor.map((v, i) => (
        <g key={"x" + i}>
          <line x1={x(v)} x2={x(v)} y1={top + H} y2={top + H - 9} stroke={INK} strokeWidth={1.6} />
          <line x1={x(v)} x2={x(v)} y1={top} y2={top + 9} stroke={INK} strokeWidth={1.6} />
        </g>
      ))}
      {leadCategories.map((c, i) => (
        <Txt key={c} x={catX(i)} y={top + H + 22} size={14}>{c}</Txt>
      ))}
      <Txt x={left + W / 2} y={top + H + 41} w={159} size={14}>Lead-time range (h)</Txt>
      <Txt x={left + W / 2} y={top + H + 56} w={dateW} size={14}>{dateText}</Txt>
      <Txt x={left + yLabelDx} y={top + H / 2} w={yLabelW} size={14} rotate>{yLabel}</Txt>
      {points.map((pt: any, i: number) =>
        pt.values.map((v: number, j: number) => (
          <path key={i + "-" + j} d={markerPath(pt.kind, catX(j), y(v), markerR[pt.kind])} fill="none" stroke={pt.color} strokeWidth={1.5} />
        ))
      )}
      {legend.map((lg: any, i: number) => {
        const ly = top + legendDy[i];
        const x1 = left + 286, x2 = left + 313;
        return (
          <g key={"lg" + i}>
            <line x1={x1} x2={x2} y1={ly} y2={ly} stroke={lg.color} strokeWidth={1.5} />
            <path d={markerPath(lg.kind, x1, ly, markerR[lg.kind])} fill="none" stroke={lg.color} strokeWidth={1.5} />
            <path d={markerPath(lg.kind, x2, ly, markerR[lg.kind])} fill="none" stroke={lg.color} strokeWidth={1.5} />
            <Txt x={left + 326} y={ly + 5} w={lg.w} size={12} anchor="start" fill={lg.color} weight="bold">{lg.label}</Txt>
          </g>
        );
      })}
      <rect x={left} y={top} width={W} height={H} fill="none" stroke={INK} strokeWidth={2} />
    </g>
  );
}

// ---------------- TIME-SERIES PANEL ----------------
const TL = 426, TR = 1619;
function TimePanel(p: any) {
  const { top, bottom, yDomain, yMajor, yMinorStep, title, titleW, yLabel, yLabelW, series, refLines, legend, legendDy, clipId } = p;
  const x = d3.scaleUtc().domain([new Date(T0), new Date(T1)]).range([TL, TR]);
  const y = d3.scaleLinear().domain(yDomain).range([bottom, top]);
  const fmtY = d3.format("d");
  const fmtDate = d3.utcFormat("%b %d");
  const fmtTime = d3.utcFormat("%H:%M");
  const step = (77 / 9) * DAY;
  const k0 = Math.ceil((T0 - timeMajorDates[0]) / step);
  const k1 = Math.floor((T1 - timeMajorDates[0]) / step);
  const minorDates = d3.range(k0, k1 + 1).map((k) => new Date(timeMajorDates[0] + k * step));
  const minors = minorValues(yDomain, yMinorStep);
  const line = d3
    .line<[number, number]>()
    .x((d) => x(new Date(T0 + d[0] * DAY)))
    .y((d) => y(d[1]));
  return (
    <g>
      <defs>
        <clipPath id={clipId}>
          <rect x={TL} y={top} width={TR - TL} height={bottom - top} />
        </clipPath>
      </defs>
      <Txt x={(TL + TR) / 2} y={top - 8} w={titleW} size={18}>{title}</Txt>
      {refLines.map((r: any, i: number) => (
        <line key={"r" + i} x1={TL} x2={TR} y1={y(r.value)} y2={y(r.value)} stroke={INK} strokeWidth={1.6} strokeDasharray={r.dash === "dot" ? "1.6 3.6" : "13 12"} />
      ))}
      <g clipPath={`url(#${clipId})`}>
        {series.map((s: any, i: number) => (
          <path key={"s" + i} d={line(s.data) || ""} fill="none" stroke={s.color} strokeWidth={1.4} strokeLinejoin="round" />
        ))}
      </g>
      {minors.map((v, i) => (
        <g key={"ym" + i}>
          <line x1={TL} x2={TL + 12} y1={y(v)} y2={y(v)} stroke={INK} strokeWidth={1.4} />
          <line x1={TR} x2={TR - 12} y1={y(v)} y2={y(v)} stroke={INK} strokeWidth={1.4} />
        </g>
      ))}
      {yMajor.map((v: number, i: number) => (
        <g key={"yM" + i}>
          <line x1={TL} x2={TL + 24} y1={y(v)} y2={y(v)} stroke={INK} strokeWidth={1.6} />
          <line x1={TR} x2={TR - 24} y1={y(v)} y2={y(v)} stroke={INK} strokeWidth={1.6} />
          <Txt x={TL - 5} y={y(v) + 5} size={14} anchor="end">{fmtY(v)}</Txt>
        </g>
      ))}
      {minorDates.map((d, i) => (
        <g key={"xm" + i}>
          <line x1={x(d)} x2={x(d)} y1={bottom} y2={bottom - 5} stroke={INK} strokeWidth={1.4} />
          <line x1={x(d)} x2={x(d)} y1={top} y2={top + 5} stroke={INK} strokeWidth={1.4} />
        </g>
      ))}
      {timeMajorDates.map((t, i) => (
        <g key={"xM" + i}>
          <line x1={x(new Date(t))} x2={x(new Date(t))} y1={bottom} y2={bottom - 9} stroke={INK} strokeWidth={1.6} />
          <line x1={x(new Date(t))} x2={x(new Date(t))} y1={top} y2={top + 9} stroke={INK} strokeWidth={1.6} />
          <Txt x={x(new Date(t))} y={bottom + 21} w={55} size={14}>{fmtDate(new Date(t))}</Txt>
          <Txt x={x(new Date(t))} y={bottom + 35} w={43} size={14}>{fmtTime(new Date(t))}</Txt>
        </g>
      ))}
      <Txt x={(TL + TR) / 2} y={bottom + 56} w={401} size={14}>{"2013-01-02  6:00 to 2014-01-02  6:00 01-24"}</Txt>
      <Txt x={383} y={(top + bottom) / 2} w={yLabelW} size={14} rotate>{yLabel}</Txt>
      {legend.map((lg: any, i: number) => {
        const ly = top + legendDy[i];
        return (
          <g key={"lg" + i}>
            <line x1={1226} x2={1250} y1={ly} y2={ly} stroke={lg.color} strokeWidth={1.6} />
            <Txt x={1261} y={ly + 6} w={lg.w} size={16} anchor="start" fill={lg.color}>{lg.label}</Txt>
          </g>
        );
      })}
      <rect x={TL} y={top} width={TR - TL} height={bottom - top} fill="none" stroke={INK} strokeWidth={2} />
    </g>
  );
}

function Caption(p: any) {
  const { y, num, line1, line2, line2W } = p;
  return (
    <g>
      <Txt x={263} y={y} w={163} size={35} anchor="start" family={SERIF} fill="#111">{`Figure ${num}:`}</Txt>
      <Txt x={438} y={y} w={1291} size={35} anchor="start" family={CAPSANS} fill="#111">{line1}</Txt>
      <Txt x={263} y={y + 45} w={line2W} size={35} anchor="start" family={CAPSANS} fill="#111">{line2}</Txt>
    </g>
  );
}

export default function App() {
  const legend2 = [
    { kind: "diamond", color: BLUE, label: "DEF-2_ch", w: 60 },
    { kind: "square", color: RED, label: "BESTF2_ch", w: 64 },
  ];
  const legend3 = [
    { kind: "triangle", color: "#000", label: "MOBS", w: 34 },
    { kind: "diamond", color: BLUE, label: "DEF-2_ch", w: 60 },
    { kind: "square", color: RED, label: "BESTF2_ch", w: 65 },
  ];
  return (
    <div style={{ position: "absolute", left: 0, top: 0, width: 2000, height: 2827, background: "#fff" }}>
      <svg width={2000} height={2827} viewBox="0 0 2000 2827" style={{ display: "block" }}>
        <rect x={0} y={0} width={2000} height={2827} fill="#fff" />

        {/* Figure 14 */}
        <LeadPanel left={497} top={309} yDomain={[-0.2, 0.2]} yMajor={fig14LeftTicks} yMinorStep={0.01}
          title="TOT_PREC1: ME DEF-2_ch BESTF2_ch" titleW={360} yLabel="ME (mm)" yLabelW={70} yLabelDx={-58} tickRight={7}
          points={[{ kind: "diamond", color: BLUE, values: fig14MeDef }, { kind: "square", color: RED, values: fig14MeBest }]}
          legend={legend2} legendDy={[18, 35]} dateText="2013-01-11 13:00 to 2014-01-02 12:00" dateW={334}
          refLine={{ value: 0, dash: "dot" }} />
        <LeadPanel left={1081} top={309} yDomain={[0, 0.5]} yMajor={fig14RightTicks} yMinorStep={0.01}
          title="TOT_PREC1: MMOD DEF-2_ch BESTF2_ch, MOBS" titleW={457} yLabel="MMOD, MOBS (mm)" yLabelW={147} yLabelDx={-46} tickRight={4}
          points={[{ kind: "triangle", color: "#000", values: fig14Mobs }, { kind: "diamond", color: BLUE, values: fig14MmodDef }, { kind: "square", color: RED, values: fig14MmodBest }]}
          legend={legend3} legendDy={[19, 35, 52]} dateText="2013-01-11 13:00 to 2014-01-02 12:00" dateW={334} />
        <Caption y={827} num={14}
          line1="Mean model error (left panel) and mean model values compared to mean observations"
          line2="(right panel) for hourly accumulated precipitation over Switzerland." line2W={1026} />

        {/* Figure 15 */}
        <TimePanel top={983} bottom={1337} yDomain={[-3.83, 4.36]} yMajor={meTicks} yMinorStep={0.5}
          title="TOT_PREC12: ME DEF-2_ch BESTF2_ch" titleW={382} yLabel="ME (mm), extended range" yLabelW={205}
          series={[{ data: meDef, color: BLUE }, { data: meBest, color: RED }]}
          refLines={[{ value: 0, dash: "dot" }, { value: 2, dash: "dash" }, { value: -2, dash: "dash" }]}
          legend={[{ color: BLUE, label: "DEF-2_ch", w: 76 }, { color: RED, label: "BESTF2_ch", w: 81 }]} legendDy={[15, 30]} clipId="clipME" />
        <TimePanel top={1419} bottom={1775} yDomain={[0, 25.2]} yMajor={mmTicks} yMinorStep={1}
          title="TOT_PREC12: MMOD DEF-2_ch BESTF2_ch, MOBS" titleW={480} yLabel="MMOD, MOBS (mm), extended range" yLabelW={283}
          series={[{ data: mmObs, color: "#000" }, { data: mmDef, color: BLUE }, { data: mmBest, color: RED }]}
          refLines={[{ value: 8, dash: "dash" }]}
          legend={[{ color: "#000", label: "MOBS", w: 41 }, { color: BLUE, label: "DEF-2_ch", w: 76 }, { color: RED, label: "BESTF2_ch", w: 81 }]} legendDy={[15, 31, 46]} clipId="clipMM" />
        <Caption y={1886} num={15}
          line1="Time series of mean model error (upper panel) and mean model values compared to"
          line2="mean observations (lower panel) for 12-h accumulated precipitation over Switzerland." line2W={1308} />

        {/* Figure 16 */}
        <LeadPanel left={497} top={2041} yDomain={[-0.2, 0.5]} yMajor={fig16LeftTicks} yMinorStep={0.01}
          title="TOT_PREC12: ME DEF-2_ch BESTF2_ch" titleW={371} yLabel="ME (mm)" yLabelW={70} yLabelDx={-58} tickRight={6}
          points={[{ kind: "diamond", color: BLUE, values: fig16MeDef }, { kind: "square", color: RED, values: fig16MeBest }]}
          legend={legend2} legendDy={[17, 34]} dateText={"2013-01-12  8:00 to 2014-01-02  8:00"} dateW={330}
          refLine={{ value: 0, dash: "dot" }} />
        <LeadPanel left={1081} top={2041} yDomain={[0.3, 2.1]} yMajor={fig16RightTicks} yMinorStep={0.1}
          title="TOT_PREC12: MMOD DEF-2_ch BESTF2_ch, MOBS" titleW={467} yLabel="MMOD, MOBS (mm), shifted range" yLabelW={260} yLabelDx={-46} tickRight={4}
          points={[{ kind: "triangle", color: "#000", values: fig16Mobs }, { kind: "diamond", color: BLUE, values: fig16MmodDef }, { kind: "square", color: RED, values: fig16MmodBest }]}
          legend={legend3} legendDy={[18, 33, 50]} dateText={"2013-01-12  8:00 to 2014-01-02  8:00"} dateW={330}
          refLine={{ value: 1.8, dash: "dash" }} />
        <Caption y={2558} num={16}
          line1="Mean model error (left panel) and mean model values compared to mean observations"
          line2="(right panel) for 12-h accumulated precipitation over Switzerland." line2W={1005} />

        <Txt x={994} y={2729} size={35} family={SERIF} fill="#111">21</Txt>
      </svg>
    </div>
  );
}
